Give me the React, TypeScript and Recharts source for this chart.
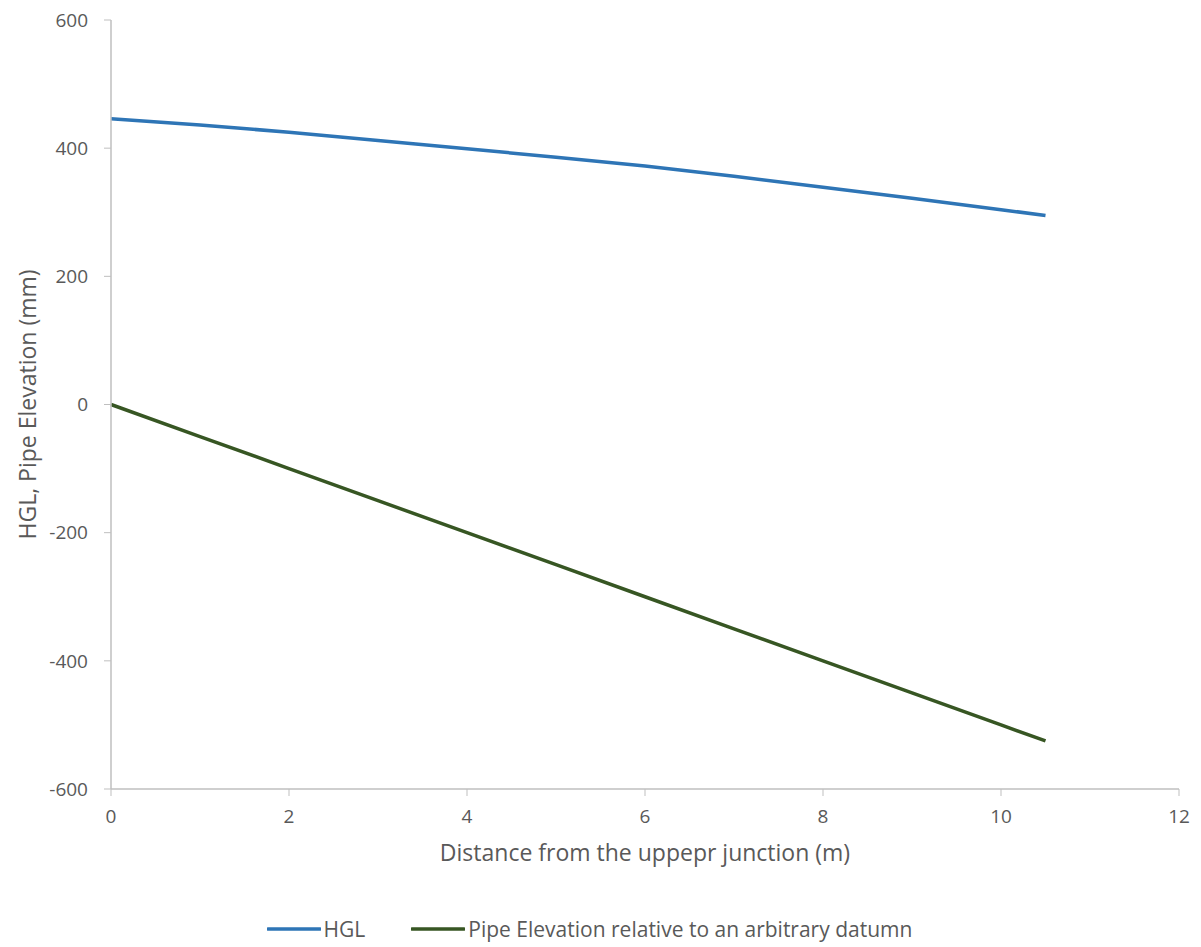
import React from 'react';
import { LineChart, Line, XAxis, YAxis, Legend, Label } from 'recharts';

const distances = [0, 1, 2, 3, 4, 5, 6, 7, 8, 9, 10, 10.5];
const hglValues = [446, 436, 425, 412, 399, 386, 372, 356, 339, 322, 304, 295];
const pipeValues = [0, -50, -100, -150, -200, -250, -300, -350, -400, -450, -500, -525];
const xTicks = [0, 2, 4, 6, 8, 10, 12];
const yTicks = [-600, -400, -200, 0, 200, 400, 600];
const seriesNames = ['HGL', 'Pipe Elevation relative to an arbitrary datumn'];
const seriesColors = ['#2E75B6', '#375623'];

const data = distances.map((d, i) => ({ x: d, hgl: hglValues[i], pipe: pipeValues[i] }));

const FONT = '"Open Sans", sans-serif';
const TEXT = '#595959';
const AXIS = '#BFBFBF';

const renderLegend = (props: any) => {
  const payload = props.payload || [];
  return (
    <div style={{ display: 'flex', justifyContent: 'center', alignItems: 'center', fontFamily: FONT, fontSize: 21, color: TEXT, lineHeight: '36px' }}>
      {payload.map((p: any, i: number) => (
        <div key={i} style={{ display: 'flex', alignItems: 'center', marginRight: i === 0 ? 46 : 0 }}>
          <svg width={54} height={10} style={{ marginRight: 3 }}>
            <line x1={1} y1={5} x2={53} y2={5} stroke={p.color} strokeWidth={3.5} strokeLinecap="round" />
          </svg>
          <span>{p.value}</span>
        </div>
      ))}
    </div>
  );
};

export default function App() {
  return (
    <div style={{ position: 'absolute', left: 0, top: 0, width: 1201, height: 947, background: '#fff' }}>
      <LineChart width={1201} height={947} data={data} margin={{ top: 20, right: 22, bottom: 0, left: 0 }}>
        <XAxis
          type="number"
          dataKey="x"
          domain={[0, 12]}
          ticks={xTicks}
          height={122}
          stroke={AXIS}
          tickSize={7}
          tickMargin={14}
          tick={{ fill: TEXT, fontSize: 19, fontFamily: FONT }}
          tickLine={{ stroke: AXIS }}
          axisLine={{ stroke: AXIS, strokeWidth: 1.5 }}
        >
          <Label value="Distance from the uppepr junction (m)" position="insideTop" offset={56} style={{ fill: TEXT, fontSize: 23, fontFamily: FONT }} />
        </XAxis>
        <YAxis
          type="number"
          domain={[-600, 600]}
          ticks={yTicks}
          width={111}
          interval={0}
          stroke={AXIS}
          tickSize={7}
          tickMargin={16}
          tick={{ fill: TEXT, fontSize: 19, fontFamily: FONT }}
          tickLine={{ stroke: AXIS }}
          axisLine={{ stroke: AXIS, strokeWidth: 1.5 }}
        >
          <Label value="HGL, Pipe Elevation (mm)" angle={-90} position="insideLeft" offset={28} style={{ fill: TEXT, fontSize: 23, fontFamily: FONT, textAnchor: 'middle' }} />
        </YAxis>
        <Legend verticalAlign="bottom" height={36} content={renderLegend} />
        <Line type="linear" dataKey="hgl" name={seriesNames[0]} stroke={seriesColors[0]} strokeWidth={3.5} dot={false} isAnimationActive={false} />
        <Line type="linear" dataKey="pipe" name={seriesNames[1]} stroke={seriesColors[1]} strokeWidth={3.5} dot={false} isAnimationActive={false} />
      </LineChart>
    </div>
  );
}
